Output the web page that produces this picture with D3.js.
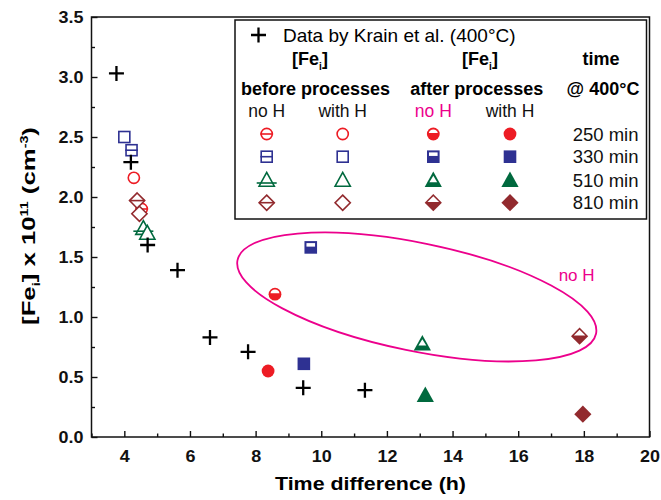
<!DOCTYPE html>
<html>
<head>
<meta charset="utf-8">
<script src="https://cdn.jsdelivr.net/npm/d3@7"></script>
<style>
  body { margin: 0; background: #fff; }
  text { font-family: "Liberation Sans", Arial, sans-serif; }
</style>
</head>
<body>
<div id="chart"></div>
<script>
// Krain et al. reference data (crosses)
const krainX = [3.76, 4.20, 4.71, 5.62, 6.61, 7.77, 9.45, 11.33];
const krainY = [3.03, 2.29, 1.60, 1.39, 0.83, 0.71, 0.41, 0.39];

// series order: 250, 330, 510, 810 min
const timeLabels = ["250 min", "330 min", "510 min", "810 min"];
const beforeNoHX = [4.53, 4.22, 4.58, 4.39];
const beforeNoHY = [1.90, 2.39, 1.74, 1.97];
const beforeWithHX = [4.29, 4.00, 4.70, 4.46];
const beforeWithHY = [2.16, 2.50, 1.70, 1.86];
const afterNoHX = [8.59, 9.68, 13.08, 17.87];
const afterNoHY = [1.19, 1.58, 0.78, 0.84];
const afterWithHX = [8.38, 9.47, 13.17, 17.97];
const afterWithHY = [0.55, 0.61, 0.35, 0.19];

const xMajor = [4, 6, 8, 10, 12, 14, 16, 18, 20];
const xMinor = [3, 5, 7, 9, 11, 13, 15, 17, 19];
const yMajor = [0, 0.5, 1.0, 1.5, 2.0, 2.5, 3.0, 3.5];
const yMinor = [0.25, 0.75, 1.25, 1.75, 2.25, 2.75, 3.25];

const shapes = ["circle", "square", "triangle", "diamond"];
const colors = ["#ed1c24", "#2e3192", "#00693e", "#922a2e"];
const pink = "#ec008c";

const width = 661, height = 500;
const margin = { top: 17, right: 11.5, bottom: 63, left: 91.5 };

const svg = d3.select("#chart").append("svg")
  .attr("width", width).attr("height", height);

const x = d3.scaleLinear().domain([3, 20]).range([margin.left, width - margin.right]);
const y = d3.scaleLinear().domain([0, 3.5]).range([height - margin.bottom, margin.top]);

// stretch text horizontally (the original uses a wide bold face)
function stretch(sel, k) {
  sel.each(function () {
    const len = this.getComputedTextLength();
    d3.select(this).attr("textLength", len * k).attr("lengthAdjust", "spacingAndGlyphs");
  });
}

const tickFont = g => g.selectAll("text")
  .style("font-size", "16px").style("font-weight", "bold").attr("fill", "#111");

// axes, ticks inward
const xAxisG = svg.append("g").attr("transform", `translate(0,${y(0)})`)
  .call(d3.axisBottom(x).tickValues(xMajor).tickSize(-6).tickPadding(13.5).tickFormat(d3.format("d")))
  .call(g => g.select(".domain").remove())
  .call(tickFont);
svg.append("g").attr("transform", `translate(0,${y(0)})`)
  .call(d3.axisBottom(x).tickValues(xMinor).tickSize(-3.5).tickFormat(""))
  .call(g => g.select(".domain").remove());

const yAxisG = svg.append("g").attr("transform", `translate(${x(3)},0)`)
  .call(d3.axisLeft(y).tickValues(yMajor).tickSize(-6).tickPadding(8).tickFormat(d3.format(".1f")))
  .call(g => g.select(".domain").remove())
  .call(tickFont);
svg.append("g").attr("transform", `translate(${x(3)},0)`)
  .call(d3.axisLeft(y).tickValues(yMinor).tickSize(-3.5).tickFormat(""))
  .call(g => g.select(".domain").remove());

svg.selectAll(".tick line").attr("stroke", "#111").attr("stroke-width", 1.4);
stretch(xAxisG.selectAll("text"), 1.12);
stretch(yAxisG.selectAll("text"), 1.12);

// frame
svg.append("rect")
  .attr("x", x(3)).attr("y", y(3.5))
  .attr("width", x(20) - x(3)).attr("height", y(0) - y(3.5))
  .attr("fill", "none").attr("stroke", "#111").attr("stroke-width", 1.5);

// axis titles
const xTitle = svg.append("text")
  .attr("text-anchor", "middle")
  .attr("transform", `translate(${(x(3) + x(20)) / 2},490)`)
  .style("font-size", "19px").style("font-weight", "bold")
  .text("Time difference (h)");
stretch(xTitle, 191 / xTitle.node().getComputedTextLength());

const yTitle = svg.append("text")
  .attr("text-anchor", "middle")
  .style("font-size", "18px").style("font-weight", "bold");
yTitle.append("tspan").text("[Fe");
yTitle.append("tspan").attr("dy", 5).style("font-size", "10px").text("i");
yTitle.append("tspan").attr("dy", -5).text("] x 10");
yTitle.append("tspan").attr("dy", -7).style("font-size", "10px").text("11");
yTitle.append("tspan").attr("dy", 7).text(" (cm");
yTitle.append("tspan").attr("dy", -7).style("font-size", "10px").text("-3");
yTitle.append("tspan").attr("dy", 7).text(")");
{
  const k = 198 / yTitle.node().getComputedTextLength();
  yTitle.attr("transform", `translate(35,226) rotate(-90) scale(${k},1)`);
}

// markers
function drawMarker(g, shape, style, color) {
  const sw = 1.6;
  if (shape === "circle") {
    const r = 6.4;
    if (style === "open" || style === "line") {
      g.append("circle").attr("r", r - sw / 2).attr("fill", "#fff").attr("stroke", color).attr("stroke-width", sw);
      if (style === "line") g.append("line").attr("x1", -r).attr("x2", r).attr("stroke", color).attr("stroke-width", sw);
    } else {
      g.append("circle").attr("r", r).attr("fill", color);
      if (style === "half") {
        const ri = r - 1.8, c = -0.15 * r, w = Math.sqrt(ri * ri - c * c);
        g.append("path").attr("d", `M${-w},${c} A${ri},${ri} 0 0 1 ${w},${c} Z`).attr("fill", "#fff");
      }
    }
  } else if (shape === "square") {
    const s = 12.6;
    if (style === "open" || style === "line") {
      g.append("rect").attr("x", -s / 2 + sw / 2).attr("y", -s / 2 + sw / 2)
        .attr("width", s - sw).attr("height", s - sw)
        .attr("fill", "#fff").attr("stroke", color).attr("stroke-width", sw);
      if (style === "line") g.append("line").attr("x1", -s / 2).attr("x2", s / 2).attr("stroke", color).attr("stroke-width", sw);
    } else {
      g.append("rect").attr("x", -s / 2).attr("y", -s / 2).attr("width", s).attr("height", s).attr("fill", color);
      if (style === "half") {
        g.append("rect").attr("x", -s / 2 + 2).attr("y", -s / 2 + 2)
          .attr("width", s - 4).attr("height", s * 0.28).attr("fill", "#fff");
      }
    }
  } else if (shape === "triangle") {
    const pts = "0,-8.5 8.6,7 -8.6,7";
    if (style === "open" || style === "line") {
      g.append("polygon").attr("points", "0,-7.6 7.6,6.2 -7.6,6.2")
        .attr("fill", "#fff").attr("stroke", color).attr("stroke-width", sw).attr("stroke-linejoin", "miter");
      if (style === "line") g.append("line").attr("x1", -10).attr("x2", 10).attr("y1", 3).attr("y2", 3)
        .attr("stroke", color).attr("stroke-width", sw);
    } else {
      g.append("polygon").attr("points", pts).attr("fill", color);
      if (style === "half") g.append("polygon").attr("points", "0,-4.2 3.9,2.2 -3.9,2.2").attr("fill", "#fff");
    }
  } else if (shape === "diamond") {
    const d = 8.6;
    if (style === "open" || style === "line") {
      const e = d - 1;
      g.append("polygon").attr("points", `0,${-e} ${e},0 0,${e} ${-e},0`)
        .attr("fill", "#fff").attr("stroke", color).attr("stroke-width", sw);
      if (style === "line") g.append("line").attr("x1", -e).attr("x2", e).attr("stroke", color).attr("stroke-width", sw);
    } else {
      g.append("polygon").attr("points", `0,${-d} ${d},0 0,${d} ${-d},0`).attr("fill", color);
      if (style === "half") g.append("polygon").attr("points", "-5.8,-0.6 0,-6.4 5.8,-0.6").attr("fill", "#fff");
    }
  }
}

function drawCross(g, s) {
  g.append("path").attr("d", `M${-s},0H${s}M0,${-s}V${s}`)
    .attr("stroke", "#000").attr("stroke-width", 2.3).attr("fill", "none");
}

// "no H" ellipse annotation
const noHRegion = { cx: 12.91, cy: 1.167, label: "no H", lx: 17.78, ly: 1.30 };
svg.append("ellipse")
  .attr("transform", `translate(${x(noHRegion.cx)},${y(noHRegion.cy)}) rotate(11.6)`)
  .attr("rx", 183).attr("ry", 54)
  .attr("fill", "none").attr("stroke", pink).attr("stroke-width", 1.8);
svg.append("text")
  .attr("x", x(noHRegion.lx)).attr("y", y(noHRegion.ly))
  .attr("text-anchor", "middle").attr("fill", pink)
  .style("font-size", "17px").text(noHRegion.label);

// data points
const groups = [
  { xs: beforeNoHX, ys: beforeNoHY, style: "line" },
  { xs: beforeWithHX, ys: beforeWithHY, style: "open" },
  { xs: afterNoHX, ys: afterNoHY, style: "half" },
  { xs: afterWithHX, ys: afterWithHY, style: "filled" }
];
const plot = svg.append("g");
groups.forEach(grp => {
  grp.xs.forEach((v, i) => {
    const g = plot.append("g").attr("transform", `translate(${x(v)},${y(grp.ys[i])})`);
    drawMarker(g, shapes[i], grp.style, colors[i]);
  });
});
krainX.forEach((v, i) => {
  drawCross(plot.append("g").attr("transform", `translate(${x(v)},${y(krainY[i])})`), 7.5);
});

// legend
const lg = svg.append("g");
lg.append("rect").attr("x", 235).attr("y", 20).attr("width", 411.5).attr("height", 199)
  .attr("fill", "#fff").attr("stroke", "#111").attr("stroke-width", 1.5);
drawCross(lg.append("g").attr("transform", "translate(258.5,35)"), 7.5);
lg.append("text").attr("x", 283).attr("y", 41.5).style("font-size", "19px")
  .text("Data by Krain et al. (400°C)");

function feLabel(cx) {
  const t = lg.append("text").attr("x", cx).attr("y", 64.5).attr("text-anchor", "middle")
    .style("font-size", "18px").style("font-weight", "bold");
  t.append("tspan").text("[Fe");
  t.append("tspan").attr("dy", 5).style("font-size", "10px").text("i");
  t.append("tspan").attr("dy", -5).text("]");
}
feLabel(310);
feLabel(480);
lg.append("text").attr("x", 601).attr("y", 64.5).attr("text-anchor", "middle")
  .style("font-size", "18px").style("font-weight", "bold").text("time");

const headRow = [["before processes", 315.5], ["after processes", 476.7], ["@ 400°C", 603]];
headRow.forEach(([t, cx]) => {
  lg.append("text").attr("x", cx).attr("y", 95).attr("text-anchor", "middle")
    .style("font-size", "18px").style("font-weight", "bold").text(t);
});

const legendCols = [266.7, 342.7, 433.3, 510];
const colHeads = ["no H", "with H", "no H", "with H"];
const colStyles = ["line", "open", "half", "filled"];
const rowY = [134, 156.7, 180, 202.7];
colHeads.forEach((t, j) => {
  lg.append("text").attr("x", legendCols[j]).attr("y", 117).attr("text-anchor", "middle")
    .attr("fill", j === 2 ? pink : "#111").style("font-size", "17.5px").text(t);
});
timeLabels.forEach((t, i) => {
  colStyles.forEach((st, j) => {
    drawMarker(lg.append("g").attr("transform", `translate(${legendCols[j]},${rowY[i]})`), shapes[i], st, colors[i]);
  });
  lg.append("text").attr("x", 638.5).attr("y", rowY[i] + 6.5).attr("text-anchor", "end")
    .style("font-size", "18.5px").attr("fill", "#111").text(t);
});
</script>
</body>
</html>
